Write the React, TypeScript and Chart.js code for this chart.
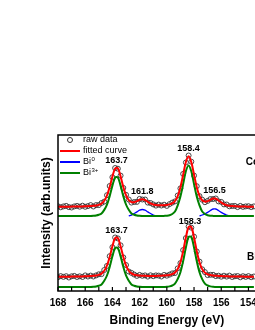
import React, { useEffect, useRef } from 'react';
import { Chart, registerables } from 'chart.js';

Chart.register(...registerables);

const FONT = "'Liberation Sans', Arial, sans-serif";

// Binding energy grid (eV)
const energies = [
  168, 167.8, 167.6, 167.4, 167.2, 167, 166.8, 166.6, 166.4, 166.2,
  166, 165.8, 165.6, 165.4, 165.2, 165, 164.8, 164.6, 164.4, 164.2,
  164, 163.8, 163.6, 163.4, 163.2, 163, 162.8, 162.6, 162.4, 162.2,
  162, 161.8, 161.6, 161.4, 161.2, 161, 160.8, 160.6, 160.4, 160.2,
  160, 159.8, 159.6, 159.4, 159.2, 159, 158.8, 158.6, 158.4, 158.2,
  158, 157.8, 157.6, 157.4, 157.2, 157, 156.8, 156.6, 156.4, 156.2,
  156, 155.8, 155.6, 155.4, 155.2, 155, 154.8, 154.6, 154.4, 154.2,
  154, 153.8, 153.6,
];

// Upper spectrum (Co sample)
const topRaw = [
  84.7, 83.7, 84.6, 85.1, 83.9, 83.5, 84.6, 85.1, 84.3, 85.3,
  84.2, 84.9, 85.9, 84.5, 85.9, 85.9, 88.0, 89.4, 95.8, 105.0,
  113.8, 123.0, 122.3, 115.4, 103.1, 96.2, 91.5, 88.4, 89.0, 89.1,
  92.1, 91.5, 91.5, 88.4, 88.0, 86.6, 85.4, 86.4, 85.5, 86.3,
  85.1, 86.9, 88.4, 89.6, 95.5, 102.6, 117.1, 128.5, 135.5, 129.3,
  115.4, 104.8, 94.9, 91.3, 88.8, 90.1, 91.9, 92.0, 92.5, 89.6,
  89.1, 86.6, 86.5, 84.7, 85.0, 85.1, 83.9, 85.1, 84.1, 84.6,
  84.8, 83.9, 84.6,
];
const topFit = [
  84.2, 84.3, 84.3, 84.3, 84.3, 84.4, 84.4, 84.5, 84.6, 84.6,
  84.7, 84.8, 85.0, 85.2, 85.5, 86.1, 87.4, 90.2, 95.5, 104.0,
  114.4, 122.5, 122.7, 114.6, 104.1, 95.9, 90.9, 88.9, 88.8, 89.8,
  91.2, 91.8, 91.0, 89.2, 87.6, 86.5, 86.0, 85.7, 85.7, 85.8,
  86.0, 86.6, 87.6, 90.0, 94.9, 103.7, 116.2, 129.0, 134.8, 128.9,
  116.2, 103.8, 95.2, 90.8, 89.4, 89.9, 91.2, 92.4, 92.2, 90.5,
  88.5, 86.8, 85.7, 85.2, 84.9, 84.7, 84.6, 84.5, 84.4, 84.4,
  84.3, 84.3, 84.3,
];
// Bi0 component: only its two humps rise above the shared baseline
const topBi0 = [
  null, null, null, null, null, null, null, null, null, null,
  null, null, null, null, null, null, null, null, null, null,
  null, null, null, null, null, null, 75.0, 75.9, 77.5, 79.1,
  80.8, 81.5, 80.8, 79.1, 77.5, 75.9, 75.0, null, null, null,
  null, null, null, null, null, null, null, null, null, null,
  null, null, 75.0, 76.0, 77.1, 78.6, 80.5, 82.0, 82.0, 80.5,
  78.6, 77.1, 76.0, 75.0, null, null, null, null, null, null,
  null, null, null,
];
const topBi3 = [
  75.0, 75.0, 75.0, 75.0, 75.0, 75.0, 75.0, 75.0, 75.0, 75.0,
  75.0, 75.0, 75.0, 75.2, 75.5, 76.2, 77.6, 81.1, 86.4, 94.9,
  105.3, 113.4, 113.5, 105.4, 94.9, 86.5, 81.2, 77.6, 76.2, 75.5,
  75.2, 75.0, 75.0, 75.0, 75.0, 75.0, 75.0, 75.0, 75.0, 75.1,
  75.3, 75.8, 77.0, 79.5, 85.7, 94.5, 107.0, 119.8, 125.6, 119.7,
  106.9, 94.4, 85.6, 79.5, 77.0, 75.8, 75.3, 75.1, 75.0, 75.0,
  75.0, 75.0, 75.0, 75.0, 75.0, 75.0, 75.0, 75.0, 75.0, 75.0,
  75.0, 75.0, 75.0,
];

// Lower spectrum (Bi sample)
const botRaw = [
  13.8, 14.9, 14.1, 14.8, 13.5, 14.7, 15.1, 14.0, 14.7, 14.0,
  15.6, 14.5, 15.4, 14.5, 15.6, 16.7, 16.9, 21.0, 25.1, 34.8,
  43.8, 53.5, 52.6, 45.7, 33.6, 26.0, 19.5, 18.1, 16.5, 15.1,
  16.1, 15.2, 15.6, 14.4, 15.7, 14.8, 15.6, 15.4, 14.5, 16.1,
  15.3, 16.4, 17.6, 18.0, 22.6, 27.9, 40.9, 52.9, 64.5, 63.3,
  54.3, 39.5, 29.4, 21.7, 18.9, 15.9, 16.2, 16.2, 14.9, 15.3,
  14.3, 15.3, 14.4, 15.4, 14.0, 14.7, 15.0, 13.7, 14.8, 14.1,
  14.9, 13.8, 14.5,
];
const botFit = [
  14.2, 14.3, 14.3, 14.3, 14.3, 14.4, 14.4, 14.5, 14.5, 14.6,
  14.7, 14.8, 15.0, 15.2, 15.5, 16.1, 17.4, 20.2, 25.5, 34.1,
  44.7, 52.9, 52.9, 44.7, 34.2, 25.6, 20.3, 17.6, 16.3, 15.7,
  15.4, 15.3, 15.2, 15.1, 15.1, 15.1, 15.1, 15.2, 15.3, 15.5,
  15.7, 16.1, 16.8, 18.5, 22.0, 28.8, 39.9, 53.5, 64.0, 64.0,
  53.5, 39.9, 28.8, 21.9, 18.4, 16.7, 15.9, 15.5, 15.3, 15.1,
  14.9, 14.8, 14.7, 14.6, 14.5, 14.5, 14.4, 14.4, 14.4, 14.3,
  14.3, 14.2, 14.2,
];
const botBi3 = [
  4.0, 4.0, 4.0, 4.0, 4.0, 4.0, 4.0, 4.0, 4.0, 4.0,
  4.0, 4.0, 4.0, 4.2, 4.5, 5.2, 6.6, 10.2, 15.5, 24.1,
  34.7, 42.9, 42.9, 34.7, 24.2, 15.6, 10.3, 6.6, 5.2, 4.5,
  4.2, 4.0, 4.0, 4.0, 4.0, 4.0, 4.0, 4.0, 4.0, 4.1,
  4.2, 4.6, 5.5, 7.3, 12.0, 18.8, 29.9, 43.5, 54.0, 54.0,
  43.5, 29.9, 18.8, 11.9, 7.3, 5.5, 4.6, 4.2, 4.1, 4.0,
  4.0, 4.0, 4.0, 4.0, 4.0, 4.0, 4.0, 4.0, 4.0, 4.0,
  4.0, 4.0, 4.0,
];

// Peak annotations
const peakText = ['163.7', '158.4', '161.8', '156.5', '163.7', '158.3'];
const peakEnergy = [163.7, 158.4, 161.8, 156.5, 163.7, 158.3];
const peakLevel = [130, 142, 99, 100, 60, 69];

// Sample names
const sampleText = ['Co', 'Bi'];
const sampleEnergy = [154.2, 154.1];
const sampleLevel = [129, 34];

// Legend
const legendText = ['raw data', 'fitted curve', 'Bi', 'Bi'];
const legendSup = ['', '', '0', '3+'];
const legendColor = ['#333333', '#ff0000', '#0000ff', '#008000'];

const pts = (vals: (number | null)[]) => energies.map((e, i) => ({ x: e, y: vals[i] }));

const decorPlugin = {
  id: 'decor',
  afterDatasetsDraw(chart: any) {
    const { ctx, chartArea: a, scales } = chart;
    const xs = scales.x;
    const ys = scales.y;
    ctx.save();
    // frame
    ctx.strokeStyle = '#000';
    ctx.lineWidth = 1.5;
    ctx.strokeRect(a.left, a.top, a.right - a.left, a.bottom - a.top);
    // inward ticks
    ctx.lineWidth = 1.2;
    xs.ticks.forEach((t: any) => {
      const px = xs.getPixelForValue(t.value);
      ctx.beginPath();
      ctx.moveTo(px, a.bottom);
      ctx.lineTo(px, a.bottom - 4);
      ctx.stroke();
    });
    // legend
    legendText.forEach((lab, i) => {
      const yy = a.top + 5 + i * 11;
      if (i === 0) {
        ctx.beginPath();
        ctx.strokeStyle = legendColor[i];
        ctx.lineWidth = 1;
        ctx.arc(a.left + 12, yy, 2.5, 0, Math.PI * 2);
        ctx.stroke();
      } else {
        ctx.beginPath();
        ctx.strokeStyle = legendColor[i];
        ctx.lineWidth = 2;
        ctx.moveTo(a.left + 2, yy);
        ctx.lineTo(a.left + 22, yy);
        ctx.stroke();
      }
      ctx.fillStyle = '#000';
      ctx.textAlign = 'left';
      ctx.textBaseline = 'middle';
      ctx.font = `9px ${FONT}`;
      ctx.fillText(lab, a.left + 25, yy);
      if (legendSup[i]) {
        const w = ctx.measureText(lab).width;
        ctx.font = `6px ${FONT}`;
        ctx.fillText(legendSup[i], a.left + 25 + w + 0.5, yy - 3);
      }
    });
    // peak labels
    ctx.font = `bold 9px ${FONT}`;
    ctx.textAlign = 'center';
    ctx.textBaseline = 'middle';
    peakText.forEach((s, i) => {
      ctx.fillText(s, xs.getPixelForValue(peakEnergy[i]), ys.getPixelForValue(peakLevel[i]));
    });
    // sample names
    ctx.font = `bold 10px ${FONT}`;
    ctx.textAlign = 'left';
    sampleText.forEach((s, i) => {
      ctx.fillText(s, xs.getPixelForValue(sampleEnergy[i]), ys.getPixelForValue(sampleLevel[i]));
    });
    ctx.restore();
  },
};

export default function App() {
  const ref = useRef<HTMLCanvasElement>(null);
  useEffect(() => {
    const chart = new Chart(ref.current as HTMLCanvasElement, {
      type: 'line',
      data: {
        datasets: [
          {
            label: 'fitted curve',
            data: pts(topFit),
            borderColor: '#ff0000',
            borderWidth: 2,
            pointRadius: 0,
            tension: 0.35,
            order: 0,
          },
          {
            label: 'fitted curve 2',
            data: pts(botFit),
            borderColor: '#ff0000',
            borderWidth: 2,
            pointRadius: 0,
            tension: 0.35,
            order: 0,
          },
          {
            label: 'Bi3+',
            data: pts(topBi3),
            borderColor: '#008000',
            borderWidth: 2,
            pointRadius: 0,
            tension: 0.35,
            order: 1,
          },
          {
            label: 'Bi3+ 2',
            data: pts(botBi3),
            borderColor: '#008000',
            borderWidth: 2,
            pointRadius: 0,
            tension: 0.35,
            order: 1,
          },
          {
            label: 'Bi0',
            data: pts(topBi0),
            borderColor: '#0000ff',
            borderWidth: 1.3,
            pointRadius: 0,
            tension: 0.35,
            spanGaps: false,
            order: 2,
          },
          {
            label: 'raw data',
            data: pts(topRaw),
            showLine: false,
            pointRadius: 2.5,
            pointBorderWidth: 0.9,
            pointBorderColor: '#333333',
            pointBackgroundColor: 'rgba(255,255,255,0)',
            order: 3,
          },
          {
            label: 'raw data 2',
            data: pts(botRaw),
            showLine: false,
            pointRadius: 2.5,
            pointBorderWidth: 0.9,
            pointBorderColor: '#333333',
            pointBackgroundColor: 'rgba(255,255,255,0)',
            order: 3,
          },
        ],
      },
      options: {
        animation: false,
        responsive: false,
        devicePixelRatio: 1,
        layout: { padding: { top: 135, right: 8, left: 0, bottom: 0 } },
        plugins: { legend: { display: false }, tooltip: { enabled: false } },
        scales: {
          x: {
            type: 'linear',
            reverse: true,
            min: 152,
            max: 168,
            afterFit: (s: any) => {
              s.height = 39;
            },
            grid: { display: false, drawTicks: false },
            border: { display: false },
            ticks: {
              stepSize: 1,
              autoSkip: false,
              maxRotation: 0,
              padding: 6,
              color: '#000',
              font: { family: FONT, size: 10, weight: 'bold' },
              callback: (v: any) => (Number(v) % 2 === 0 ? String(v) : ''),
            },
            title: {
              display: true,
              text: 'Binding Energy (eV)',
              color: '#000',
              font: { family: FONT, size: 12, weight: 'bold' },
              padding: { top: 0, bottom: 2 },
            },
          },
          y: {
            type: 'linear',
            min: 0,
            max: 156,
            afterFit: (s: any) => {
              s.width = 58;
            },
            grid: { display: false, drawTicks: false },
            border: { display: false },
            ticks: { display: false },
            title: {
              display: true,
              text: 'Intensity (arb.units)',
              color: '#000',
              font: { family: FONT, size: 12, weight: 'bold' },
              padding: { top: 39, bottom: 0 },
            },
          },
        },
      },
      plugins: [decorPlugin],
    } as any);
    return () => chart.destroy();
  }, []);
  return (
    <div
      style={{
        position: 'fixed',
        left: 0,
        top: 0,
        width: 255,
        height: 330,
        overflow: 'hidden',
        background: '#fff',
      }}
    >
      <canvas ref={ref} width={290} height={330} style={{ display: 'block', width: 290, height: 330 }} />
    </div>
  );
}
